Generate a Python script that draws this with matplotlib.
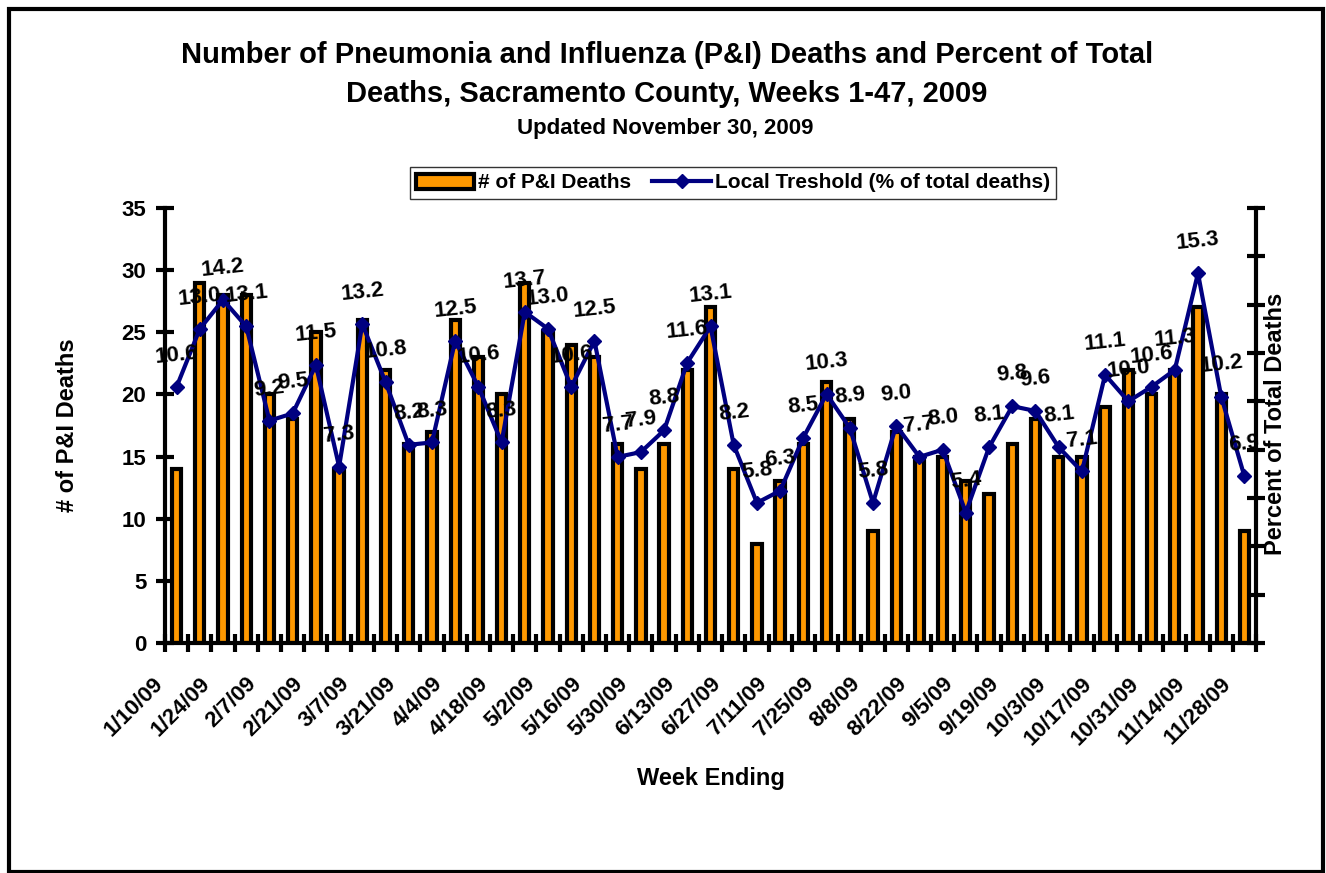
import matplotlib
matplotlib.use("Agg")
import matplotlib.pyplot as plt
import matplotlib.transforms as mtransforms
from matplotlib.patches import Rectangle, Patch
from matplotlib.lines import Line2D
import numpy as np

plt.rcParams['font.family'] = ['Liberation Sans', 'DejaVu Sans']
plt.rcParams['font.weight'] = 'bold'

# weekly P&I deaths (bars) and percent of total deaths (line), weeks 1-47
deaths = [14, 29, 28, 28, 20, 18, 25, 14, 26, 22, 16, 17, 26, 23, 20, 29,
          25, 24, 23, 16, 14, 16, 22, 27, 14, 8, 13, 16, 21, 18, 9, 17,
          15, 15, 13, 12, 16, 18, 15, 15, 19, 22, 20, 22, 27, 20, 9]
pct = [10.6, 13.0, 14.2, 13.1, 9.2, 9.5, 11.5, 7.3, 13.2, 10.8, 8.2, 8.3,
       12.5, 10.6, 8.3, 13.7, 13.0, 10.6, 12.5, 7.7, 7.9, 8.8, 11.6, 13.1,
       8.2, 5.8, 6.3, 8.5, 10.3, 8.9, 5.8, 9.0, 7.7, 8.0, 5.4, 8.1, 9.8,
       9.6, 8.1, 7.1, 11.1, 10.0, 10.6, 11.3, 15.3, 10.2, 6.9]
# every other week ending is labelled
tick_labels = ['1/10/09', '1/24/09', '2/7/09', '2/21/09', '3/7/09', '3/21/09',
               '4/4/09', '4/18/09', '5/2/09', '5/16/09', '5/30/09', '6/13/09',
               '6/27/09', '7/11/09', '7/25/09', '8/8/09', '8/22/09', '9/5/09',
               '9/19/09', '10/3/09', '10/17/09', '10/31/09', '11/14/09',
               '11/28/09']

W, H = 1326, 873
fig = plt.figure(figsize=(W / 100, H / 100), dpi=100)

# outer frame
fig.patches.append(Rectangle((9 / W, 1 / H), (1323 - 9) / W, (863) / H,
                             transform=fig.transFigure, fill=False,
                             edgecolor='black', linewidth=3))

ax = fig.add_axes([165 / W, 1 - 643 / H, (1256 - 165) / W, (643 - 208) / H])
x = np.arange(len(deaths))
ax.bar(x, deaths, width=0.4, color='#FF9900', edgecolor='black',
       linewidth=3, zorder=2)
ax.set_xlim(-0.5, len(deaths) - 0.5)
ax.set_ylim(0, 35)
ax.set_yticks(range(0, 36, 5))
ax.tick_params(axis='y', direction='inout', length=13, width=3,
               labelsize=16, pad=7)
ax.set_xticks(np.arange(-0.5, len(deaths), 1), minor=True)
ax.set_xticks(np.arange(0, len(deaths), 2))
ax.set_xticklabels(tick_labels, rotation=45, ha='right', va='center',
                   rotation_mode='anchor', fontsize=16)
ax.tick_params(axis='x', which='major', length=0, pad=27)
ax.tick_params(axis='x', which='minor', direction='inout', length=13, width=3)
shift = mtransforms.ScaledTranslation(-0.16, 0, fig.dpi_scale_trans)
for lbl in ax.get_xticklabels():
    lbl.set_transform(lbl.get_transform() + shift)
for s in ['left', 'right', 'bottom']:
    ax.spines[s].set_linewidth(3)
ax.spines['top'].set_visible(False)
ax.spines['right'].set_visible(False)

ax2 = ax.twinx()
ax2.plot(x, pct, color='#000080', lw=3, marker='D', ms=7, zorder=3)
ax2.set_ylim(0, 18)
ax2.set_yticks(range(0, 19, 2))
ax2.set_yticklabels([])
ax2.tick_params(axis='y', direction='inout', length=13, width=3)
ax2.spines['right'].set_linewidth(3)
for s in ['top', 'left', 'bottom']:
    ax2.spines[s].set_visible(False)
for xi, v in zip(x, pct):
    ax2.annotate(f'{v:.1f}', (xi, v), xytext=(0, 23), textcoords='offset points',
                 ha='center', va='center', fontsize=16, rotation=6)

# titles and axis labels
fig.text(667 / W, 1 - 63 / H,
         'Number of Pneumonia and Influenza (P&I) Deaths and Percent of Total',
         ha='center', va='baseline', fontsize=21)
fig.text(667 / W, 1 - 102 / H, 'Deaths, Sacramento County, Weeks 1-47, 2009',
         ha='center', va='baseline', fontsize=21)
fig.text(665 / W, 1 - 134 / H, 'Updated November 30, 2009',
         ha='center', va='baseline', fontsize=16)
fig.text(68 / W, 1 - 425 / H, '# of P&I Deaths', rotation=90,
         ha='center', va='center', fontsize=17)
fig.text(1276 / W, 1 - 424 / H, 'Percent of Total Deaths', rotation=90,
         ha='center', va='center', fontsize=17)
fig.text(711 / W, 1 - 779 / H, 'Week Ending', ha='center', va='center',
         fontsize=17)

handles = [Patch(facecolor='#FF9900', edgecolor='black', linewidth=3),
           Line2D([], [], color='#000080', lw=3, marker='D', ms=7)]
leg = fig.legend(handles, ['# of P&I Deaths', 'Local Treshold (% of total deaths)'],
                 loc='center', bbox_to_anchor=(733 / W, 1 - 183 / H), ncol=2,
                 fontsize=15, frameon=True, fancybox=False, borderpad=0.3,
                 handlelength=2.8, handletextpad=0.2, columnspacing=1.0)
leg.get_frame().set_edgecolor('black')
leg.get_frame().set_linewidth(1)

fig.savefig('out.png', dpi=100)
